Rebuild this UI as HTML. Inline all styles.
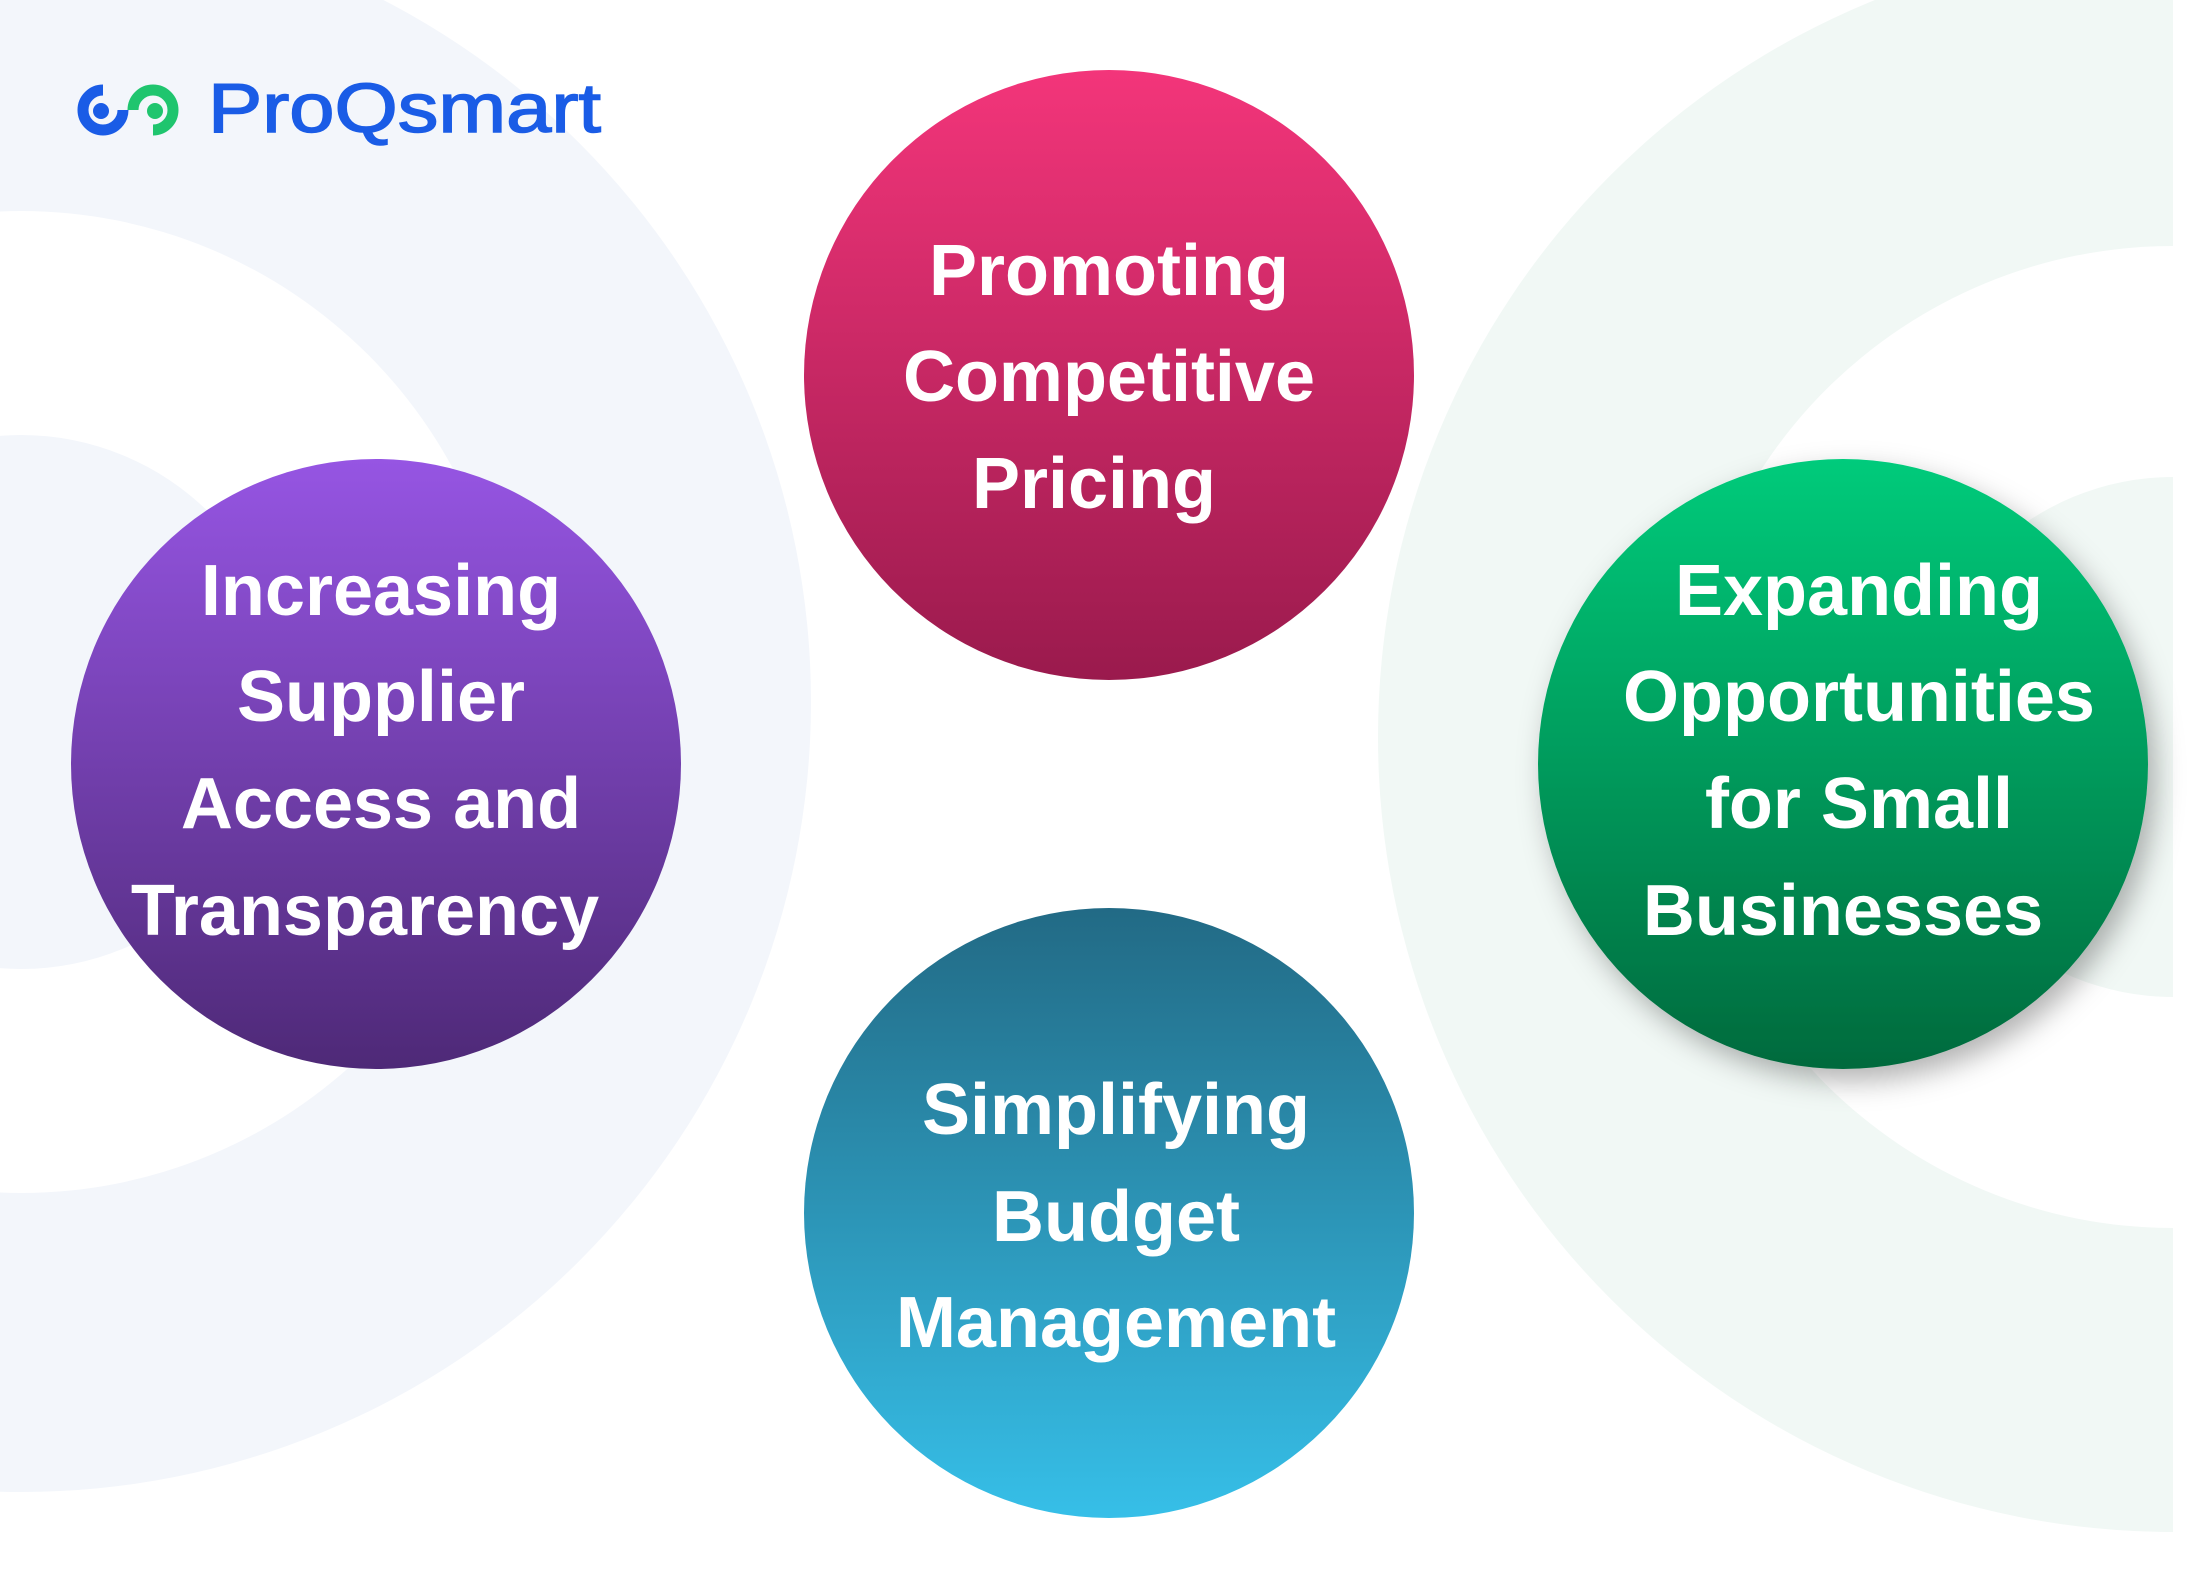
<!DOCTYPE html>
<html><head><meta charset="utf-8"><style>html,body{margin:0;padding:0;background:#fff}svg{display:block}</style></head>
<body>
<svg width="2201" height="1577" viewBox="0 0 2201 1577" xmlns="http://www.w3.org/2000/svg">
<defs>
<linearGradient id="gp" x1="0" y1="0" x2="0" y2="1"><stop offset="0" stop-color="#f3357a"/><stop offset="1" stop-color="#9a1a4d"/></linearGradient>
<linearGradient id="gv" x1="0" y1="0" x2="0" y2="1"><stop offset="0" stop-color="#9655e3"/><stop offset="1" stop-color="#4e2977"/></linearGradient>
<linearGradient id="gg" x1="0" y1="0" x2="0" y2="1"><stop offset="0" stop-color="#00cb7b"/><stop offset="1" stop-color="#006a3d"/></linearGradient>
<linearGradient id="gt" x1="0" y1="0" x2="0" y2="1"><stop offset="0" stop-color="#226a85"/><stop offset="1" stop-color="#36bfe8"/></linearGradient>
<filter id="sh" x="-20%" y="-20%" width="150%" height="150%"><feDropShadow dx="8" dy="12" stdDeviation="14" flood-color="#000" flood-opacity="0.3"/></filter>
</defs>
<rect width="2201" height="1577" fill="#fff"/>
<circle cx="21" cy="702" r="790" fill="#f3f6fb"/>
<circle cx="21" cy="702" r="491" fill="#fff"/>
<circle cx="21" cy="702" r="267" fill="#f3f6fb"/>
<circle cx="2173" cy="737" r="795" fill="#f1f8f5"/>
<circle cx="2173" cy="737" r="491" fill="#fff"/>
<circle cx="2173" cy="737" r="260" fill="#f1f8f5"/>
<rect x="2173" y="0" width="28" height="1577" fill="#fff"/>

<path d="M103 90 A20 20 0 1 0 123 110" fill="none" stroke="#1a5ce6" stroke-width="11"/>
<circle cx="101" cy="111" r="8" fill="#1a5ce6"/>
<path d="M133 110 A20 20 0 1 1 153 130" fill="none" stroke="#1fc56e" stroke-width="11"/>
<circle cx="155" cy="111" r="8" fill="#1fc56e"/>
<text x="208" y="132" font-family="Liberation Sans, sans-serif" font-size="70" fill="#1a5ce6" textLength="393" lengthAdjust="spacingAndGlyphs" stroke="#1a5ce6" stroke-width="1.5">ProQsmart</text>

<circle cx="1109" cy="375" r="305" fill="url(#gp)"/>
<circle cx="376" cy="764" r="305" fill="url(#gv)"/>
<circle cx="1843" cy="764" r="305" fill="url(#gg)" filter="url(#sh)"/>
<circle cx="1109" cy="1213" r="305" fill="url(#gt)"/>

<g font-family="Liberation Sans, sans-serif" font-weight="bold" font-size="72" fill="#fff" text-anchor="middle">
<text x="1109" y="295">Promoting</text>
<text x="1109" y="401">Competitive</text>
<text x="1094" y="508">Pricing</text>
<text x="381" y="615">Increasing</text>
<text x="381" y="721">Supplier</text>
<text x="381" y="828">Access and</text>
<text x="365" y="935">Transparency</text>
<text x="1859" y="615">Expanding</text>
<text x="1859" y="721">Opportunities</text>
<text x="1859" y="828">for Small</text>
<text x="1843" y="935">Businesses</text>
<text x="1116" y="1134">Simplifying</text>
<text x="1116" y="1241">Budget</text>
<text x="1116" y="1347">Management</text>
</g>
</svg>
</body></html>
